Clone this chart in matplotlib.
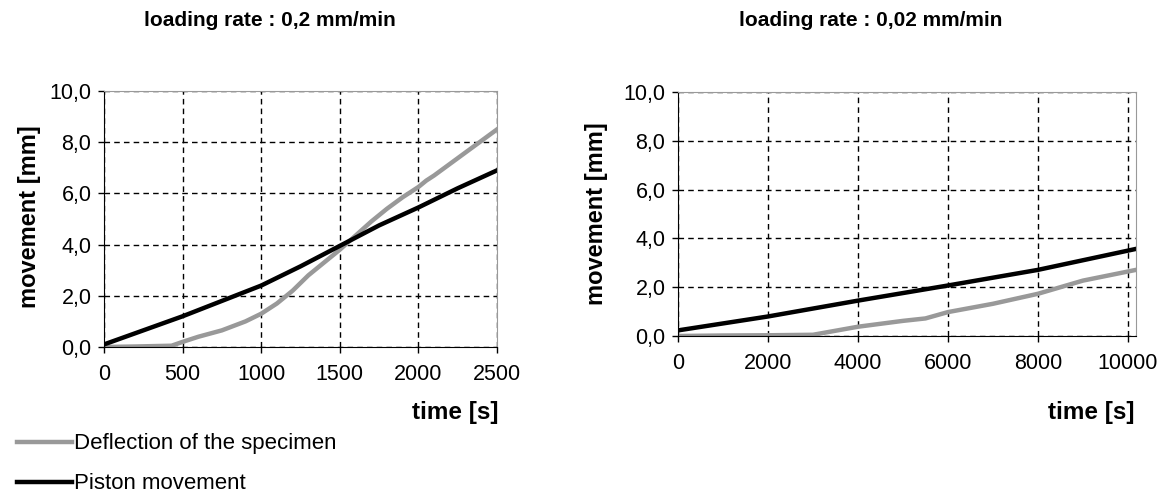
import numpy as np
import matplotlib.pyplot as plt
from matplotlib.ticker import FuncFormatter

plt.rcParams['font.family'] = ['Liberation Sans', 'DejaVu Sans']

# loading rate 0,2 mm/min
t_fast_defl = [0, 200, 430, 500, 600, 750, 900, 1000, 1100, 1200, 1300, 1400,
               1500, 1600, 1700, 1800, 1900, 2000, 2050, 2100, 2200, 2300, 2400, 2500]
defl_fast = [0.0, 0.02, 0.05, 0.2, 0.4, 0.65, 1.0, 1.3, 1.7, 2.2, 2.8, 3.3,
             3.8, 4.35, 4.9, 5.4, 5.85, 6.25, 6.5, 6.7, 7.15, 7.6, 8.05, 8.5]
t_fast_pist = [0, 250, 500, 750, 1000, 1250, 1500, 1750, 2000, 2250, 2500]
pist_fast = [0.1, 0.65, 1.2, 1.8, 2.4, 3.15, 3.95, 4.75, 5.45, 6.2, 6.9]

# loading rate 0,02 mm/min
t_slow_defl = [0, 1000, 2000, 3000, 4000, 5000, 5500, 6000, 7000, 8000, 9000, 10180]
defl_slow = [0.0, 0.02, 0.03, 0.05, 0.38, 0.62, 0.72, 0.98, 1.32, 1.73, 2.27, 2.71]
t_slow_pist = [0, 2000, 4000, 6000, 8000, 10180]
pist_slow = [0.23, 0.8, 1.45, 2.07, 2.71, 3.57]

W, H = 1160, 495
fig = plt.figure(figsize=(W / 100, H / 100), dpi=100)


def box(x0, y0, x1, y1):
    return [x0 / W, 1 - y1 / H, (x1 - x0) / W, (y1 - y0) / H]


comma = FuncFormatter(lambda v, p: f"{v:.1f}".replace('.', ','))


def style(ax, xmax, xticks):
    ax.set_xlim(0, xmax)
    ax.set_ylim(0, 10)
    ax.set_xticks(xticks)
    ax.set_yticks(np.arange(0, 11, 2))
    ax.yaxis.set_major_formatter(comma)
    ax.grid(True, color='black', linestyle=(0, (4, 3)), linewidth=1.0)
    ax.set_axisbelow(True)
    for s in ('top', 'right'):
        ax.spines[s].set_color('#999999')
    for s in ('left', 'bottom'):
        ax.spines[s].set_color('black')
    ax.tick_params(direction='out', length=4, width=1, labelsize=15.5)
    ax.tick_params(axis='x', pad=8)
    ax.tick_params(axis='y', pad=5)


ax1 = fig.add_axes(box(104, 91, 497, 347))
l1, = ax1.plot(t_fast_defl, defl_fast, color='#999999', lw=3.2, label='Deflection of the specimen')
l2, = ax1.plot(t_fast_pist, pist_fast, color='black', lw=3.2, label='Piston movement')
style(ax1, 2500, [0, 500, 1000, 1500, 2000, 2500])

ax2 = fig.add_axes(box(678, 92, 1136, 336))
ax2.plot(t_slow_defl, defl_slow, color='#999999', lw=3.2)
ax2.plot(t_slow_pist, pist_slow, color='black', lw=3.2)
style(ax2, 10180, [0, 2000, 4000, 6000, 8000, 10000])

for x, y, txt in [(270, 20, 'loading rate : 0,2 mm/min'), (871, 20, 'loading rate : 0,02 mm/min')]:
    fig.text(x / W, 1 - y / H, txt, ha='center', va='center', fontsize=15, fontweight='bold')

for x, y in [(30, 217), (596, 214)]:
    fig.text(x / W, 1 - y / H, 'movement [mm]', rotation=90, ha='center', va='center',
             fontsize=17, fontweight='bold')

for x in (499, 1134):
    fig.text(x / W, 1 - 412 / H, 'time [s]', ha='right', va='center', fontsize=17.5, fontweight='bold')

fig.legend(handles=[l1, l2], loc='upper left', bbox_to_anchor=(13 / W, 1 - 429 / H),
           frameon=False, fontsize=16, handlelength=2.45, handletextpad=0.1,
           labelspacing=0.85, borderaxespad=0, borderpad=0.2)

fig.savefig('out.png', dpi=100)
